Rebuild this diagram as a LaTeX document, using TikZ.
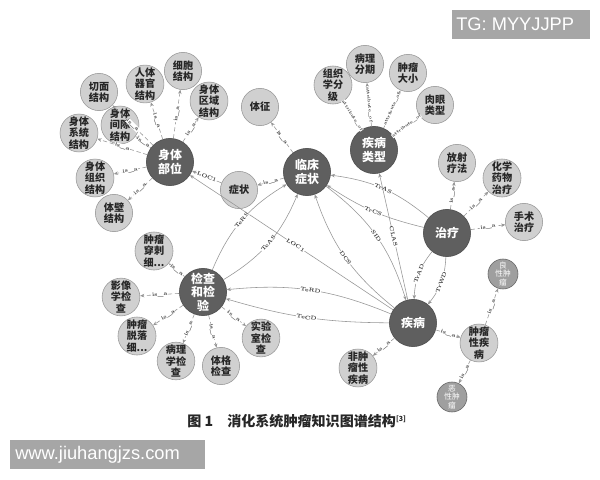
\documentclass[tikz,border=0pt]{standalone}
\usepackage{fontspec}
\newfontfamily\cjk{Noto Sans CJK SC}
\newfontfamily\wmfont{Liberation Sans}
\usetikzlibrary{arrows.meta,positioning}
\definecolor{hubgray}{RGB}{95,95,95}
\definecolor{leafgray}{RGB}{208,208,208}
\definecolor{edgegray}{RGB}{150,150,150}
\definecolor{wmgray}{RGB}{166,166,166}

\begin{document}
\begin{tikzpicture}[x=0.025cm, y=-0.025cm,
    hub/.style={circle, draw=black!70, fill=hubgray, text=white, minimum size=1.18cm, inner sep=0pt, align=center, font=\cjk\bfseries\fontsize{8.5}{9.5}\selectfont},
    leaf/.style={circle, draw=gray!80, fill=leafgray, text=black!85, minimum size=0.93cm, inner sep=0pt, align=center, font=\cjk\bfseries\fontsize{7.2}{8}\selectfont},
    tipnode/.style={circle, draw=black!60, fill=gray!75, text=white, minimum size=0.75cm, inner sep=0pt, align=center, font=\cjk\fontsize{5.5}{6}\selectfont},
    isa/.style={densely dashed, draw=edgegray, -{Stealth[length=3pt,width=2.5pt]}},
    rel/.style={draw=edgegray, -{Stealth[length=3pt,width=2.5pt]}},
    lbl/.style={font=\fontsize{3.8}{4}\selectfont\bfseries, sloped, fill=white, inner sep=0.2pt, text=black!80},
    attlbl/.style={lbl, font=\fontsize{3}{3.2}\selectfont\bfseries},
    wmbox/.style={fill=wmgray, text=white, inner sep=0pt, font=\wmfont\fontsize{13}{14}\selectfont}]
    \useasboundingbox[fill=white] (0,0) rectangle (600,480);

    % hubs
    \node[hub] (body) at (170,162) {身体\\部位};
    \node[hub] (clin) at (307,172) {临床\\症状};
    \node[hub] (dtype) at (374,150) {疾病\\类型};
    \node[hub] (treat) at (447,233) {治疗};
    \node[hub] (exam) at (203,292) {检查\\和检\\验};
    \node[hub] (dis) at (413,323) {疾病};

    % body parts
    \node[leaf] (cut) at (99,92) {切面\\结构};
    \node[leaf] (organ) at (145,84) {人体\\器官\\结构};
    \node[leaf] (cell) at (183,71) {细胞\\结构};
    \node[leaf] (region) at (209,101) {身体\\区域\\结构};
    \node[leaf] (gap) at (120,125) {身体\\间隙\\结构};
    \node[leaf] (system) at (79,133) {身体\\系统\\结构};
    \node[leaf] (tissue) at (95,178) {身体\\组织\\结构};
    \node[leaf] (wall) at (114,213) {体壁\\结构};

    % symptoms
    \node[leaf] (sign) at (260,107) {体征};
    \node[leaf] (symp) at (239,190) {症状};

    % disease types
    \node[leaf] (grade) at (333,85) {组织\\学分\\级};
    \node[leaf] (stage) at (365,64) {病理\\分期};
    \node[leaf] (size) at (408,73) {肿瘤\\大小};
    \node[leaf] (gross) at (435,105) {肉眼\\类型};

    % treatments
    \node[leaf] (radio) at (457,163) {放射\\疗法};
    \node[leaf] (chemo) at (502,178) {化学\\药物\\治疗};
    \node[leaf] (surg) at (524,222) {手术\\治疗};

    % examinations
    \node[leaf] (punct) at (154,251) {肿瘤\\穿刺\\细...};
    \node[leaf] (image) at (121,297) {影像\\学检\\查};
    \node[leaf] (exfol) at (137,336) {肿瘤\\脱落\\细...};
    \node[leaf] (patho) at (176,361) {病理\\学检\\查};
    \node[leaf] (phys) at (221,366) {体格\\检查};
    \node[leaf] (lab) at (261,338) {实验\\室检\\查};

    % diseases
    \node[leaf] (nontumor) at (358,368) {非肿\\瘤性\\疾病};
    \node[leaf] (tumor) at (479,343) {肿瘤\\性疾\\病};
    \node[tipnode] (benign) at (503,274) {良\\性肿\\瘤};
    \node[tipnode] (malig) at (452,397) {恶\\性肿\\瘤};

    % is_a edges
    \draw[isa] (body) -- node[lbl] {is\_a} (cut);
    \draw[isa] (body) -- node[lbl] {is\_a} (organ);
    \draw[isa] (body) -- node[lbl] {is\_a} (cell);
    \draw[isa] (body) -- node[lbl] {is\_a} (region);
    \draw[isa] (body) -- node[lbl] {is\_a} (gap);
    \draw[isa] (body) -- node[lbl] {is\_a} (system);
    \draw[isa] (body) -- node[lbl] {is\_a} (tissue);
    \draw[isa] (body) -- node[lbl] {is\_a} (wall);
    \draw[isa] (clin) -- node[lbl] {is\_a} (sign);
    \draw[isa] (clin) -- node[lbl] {is\_a} (symp);
    \draw[isa] (dtype) -- node[attlbl] {attribute\_of} (grade);
    \draw[isa] (dtype) -- node[attlbl] {attribute\_of} (stage);
    \draw[isa] (dtype) -- node[attlbl] {attribute\_of} (size);
    \draw[isa] (dtype) -- node[attlbl] {attribute\_of} (gross);
    \draw[isa] (treat) -- node[lbl] {is\_a} (radio);
    \draw[isa] (treat) -- node[lbl] {is\_a} (chemo);
    \draw[isa] (treat) -- node[lbl] {is\_a} (surg);
    \draw[isa] (exam) -- node[lbl] {is\_a} (punct);
    \draw[isa] (exam) -- node[lbl] {is\_a} (image);
    \draw[isa] (exam) -- node[lbl] {is\_a} (exfol);
    \draw[isa] (exam) -- node[lbl] {is\_a} (patho);
    \draw[isa] (exam) -- node[lbl] {is\_a} (phys);
    \draw[isa] (exam) -- node[lbl] {is\_a} (lab);
    \draw[isa] (dis) -- node[lbl] {is\_a} (nontumor);
    \draw[isa] (dis) -- node[lbl] {is\_a} (tumor);
    \draw[isa] (tumor) -- node[lbl] {is\_a} (benign);
    \draw[isa] (tumor) -- node[lbl] {is\_a} (malig);

    % relations
    \draw[rel] (symp) -- node[lbl] {LOC1} (body);
    \draw[rel] (dis) -- node[lbl, pos=0.48] {LOC1} (body);
    \draw[rel] (treat) to[bend right=16] node[lbl] {TrAS} (clin);
    \draw[rel] (treat) to[bend left=10] node[lbl] {TrCS} (clin);
    \draw[rel] (clin) to[bend left=18] node[lbl] {SID} (dis);
    \draw[rel] (dis) to[bend left=16] node[lbl] {DCS} (clin);
    \draw[rel] (dis) -- node[lbl] {CLAS} (dtype);
    \draw[rel] (treat) to[bend right=18] node[lbl] {TrAD} (dis);
    \draw[rel] (treat) to[bend left=18] node[lbl] {TrWD} (dis);
    \draw[rel] (exam) to[bend left=18] node[lbl] {TeRS} (clin);
    \draw[rel] (exam) to[bend right=18] node[lbl] {TeAS} (clin);
    \draw[rel] (dis) to[bend right=14] node[lbl] {TeRD} (exam);
    \draw[rel] (dis) to[bend left=8] node[lbl] {TeCD} (exam);

    % caption and watermarks
    \node[font=\cjk\bfseries\fontsize{10}{12}\selectfont, text=black!85] (caption) at (297,421) {图 1\quad 消化系统肿瘤知识图谱结构\textsuperscript{\fontsize{5}{6}\selectfont [3]}};
    \fill[wmgray] (452,10) rectangle (590,39);
    \node[wmbox, anchor=west] (tg) at (456,24.5) {TG: MYYJJPP};
    \fill[wmgray] (10,440) rectangle (205,469);
    \node[wmbox, anchor=west] (site) at (15,454.5) {www.jiuhangjzs.com};
\end{tikzpicture}
\end{document}
